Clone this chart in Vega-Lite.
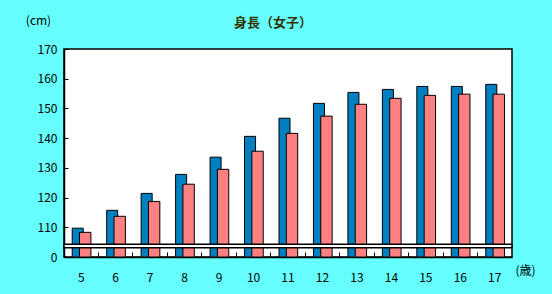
{
  "$schema": "https://vega.github.io/schema/vega-lite/v6.json",
  "width": 448,
  "height": 208,
  "autosize": {"type": "none"},
  "padding": {"left": 64, "top": 49, "right": 40, "bottom": 37},
  "background": "#66ffff",
  "config": {
    "font": "Noto Sans CJK JP",
    "view": {"fill": "white", "stroke": "black", "strokeWidth": 1.5}
  },
  "title": {
    "text": "身長（女子）",
    "anchor": "middle",
    "frame": "group",
    "dx": -15,
    "offset": -16,
    "fontSize": 13,
    "fontWeight": "bold",
    "color": "#333300",
    "font": "Noto Sans CJK JP"
  },
  "data": {
    "values": [
      {"age": "5", "s": "A", "h": 109.7}, {"age": "5", "s": "B", "h": 108.3},
      {"age": "6", "s": "A", "h": 115.7}, {"age": "6", "s": "B", "h": 113.7},
      {"age": "7", "s": "A", "h": 121.4}, {"age": "7", "s": "B", "h": 118.7},
      {"age": "8", "s": "A", "h": 127.8}, {"age": "8", "s": "B", "h": 124.5},
      {"age": "9", "s": "A", "h": 133.6}, {"age": "9", "s": "B", "h": 129.5},
      {"age": "10", "s": "A", "h": 140.6}, {"age": "10", "s": "B", "h": 135.6},
      {"age": "11", "s": "A", "h": 146.7}, {"age": "11", "s": "B", "h": 141.6},
      {"age": "12", "s": "A", "h": 151.7}, {"age": "12", "s": "B", "h": 147.4},
      {"age": "13", "s": "A", "h": 155.4}, {"age": "13", "s": "B", "h": 151.4},
      {"age": "14", "s": "A", "h": 156.4}, {"age": "14", "s": "B", "h": 153.4},
      {"age": "15", "s": "A", "h": 157.4}, {"age": "15", "s": "B", "h": 154.4},
      {"age": "16", "s": "A", "h": 157.4}, {"age": "16", "s": "B", "h": 154.8},
      {"age": "17", "s": "A", "h": 158.1}, {"age": "17", "s": "B", "h": 154.8}
    ]
  },
  "encoding": {
    "x": {
      "field": "age",
      "type": "ordinal",
      "sort": null,
      "scale": {"paddingInner": 0, "paddingOuter": 0},
      "axis": {
        "title": "(歳)",
        "titleAngle": 0,
        "titleX": 461,
        "titleY": 13,
        "titleAlign": "center",
        "titleBaseline": "middle",
        "titleFontSize": 12,
        "titleFontWeight": "normal",
        "titleColor": "black",
        "labelAngle": 0,
        "labelFontSize": 12,
        "labelColor": "black",
        "labelPadding": 20,
        "bandPosition": 0,
        "tickSize": -5,
        "tickColor": "black",
        "tickWidth": 1,
        "domainColor": "black",
        "domainWidth": 1.5
      }
    },
    "y": {
      "field": "h",
      "type": "quantitative",
      "scale": {"domain": [100, 170], "zero": false, "nice": false},
      "axis": {
        "title": "(cm)",
        "titleAngle": 0,
        "titleX": -26,
        "titleY": -29,
        "titleAlign": "center",
        "titleBaseline": "middle",
        "titleFontSize": 12,
        "titleFontWeight": "normal",
        "titleColor": "black",
        "values": [100, 110, 120, 130, 140, 150, 160, 170],
        "labelExpr": "datum.value == 100 ? '0' : datum.label",
        "labelFontSize": 12,
        "labelColor": "black",
        "labelPadding": 11,
        "tickSize": -4,
        "tickColor": "black",
        "tickWidth": 1,
        "domainColor": "black",
        "domainWidth": 1.5,
        "grid": false
      }
    }
  },
  "layer": [
    {
      "transform": [{"filter": "datum.s == 'A'"}],
      "mark": {"type": "bar", "width": {"band": 0.32}, "xOffset": -3.5, "fill": "#0080c0", "stroke": "black", "strokeWidth": 1},
      "encoding": {"y2": {"datum": 100}}
    },
    {
      "transform": [{"filter": "datum.s == 'B'"}],
      "mark": {"type": "bar", "width": {"band": 0.33}, "xOffset": 4, "fill": "#ff8080", "stroke": "black", "strokeWidth": 1},
      "encoding": {"y2": {"datum": 100}}
    },
    {
      "data": {"values": [{"lo": 103.1, "hi": 104.3}]},
      "mark": {"type": "rect", "fill": "white", "stroke": "black", "strokeWidth": 1.5},
      "encoding": {
        "x": null,
        "y": {"field": "hi", "type": "quantitative"},
        "y2": {"field": "lo"}
      }
    }
  ]
}
